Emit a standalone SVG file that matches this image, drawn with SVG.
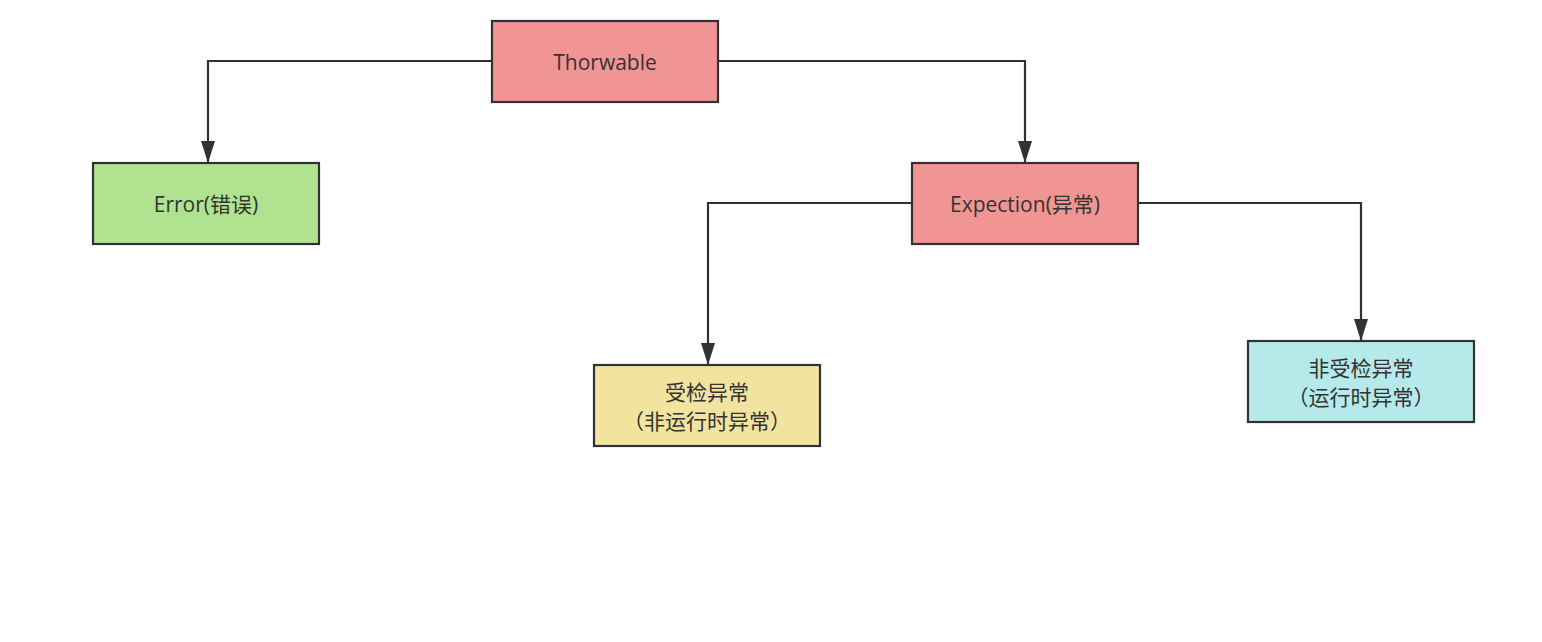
<svg xmlns="http://www.w3.org/2000/svg" width="1542" height="642" viewBox="0 0 1542 642">
<style>
.box{stroke:#323232;stroke-width:2.2}
.t{font-family:"Open Sans","Noto Sans CJK SC",sans-serif;font-size:21px;fill:#333;text-anchor:middle}
.c{fill:none;stroke:#323232;stroke-width:2.2;marker-end:url(#a)}
</style>
<defs>
<marker id="a" markerWidth="14" markerHeight="22" viewBox="0 0 14 22" refX="7" refY="22" orient="0" markerUnits="userSpaceOnUse">
<path d="M0,0 L14,0 L7,22 Z" fill="#323232"/>
</marker>
</defs>
<rect width="1542" height="642" fill="#fff"/>
<g id="connectors">
<path class="c" d="M492,61 H208 V163"/>
<path class="c" d="M718,61 H1025 V163"/>
<path class="c" d="M912,203 H708 V365"/>
<path class="c" d="M1138,203 H1361 V341"/>
</g>
<g id="thorwable">
<rect class="box" x="492" y="21" width="226" height="81" fill="#F19594"/>
<text class="t" x="605" y="70">Thorwable</text>
</g>
<g id="error">
<rect class="box" x="93" y="163" width="226" height="81" fill="#B0E38F"/>
<text class="t" x="206" y="212">Error(错误)</text>
</g>
<g id="expection">
<rect class="box" x="912" y="163" width="226" height="81" fill="#F19594"/>
<text class="t" x="1025" y="212">Expection(异常)</text>
</g>
<g id="checked">
<rect class="box" x="594" y="365" width="226" height="81" fill="#F2E39F"/>
<text class="t" x="707" y="400">受检异常</text>
<text class="t" x="707" y="429">（非运行时异常）</text>
</g>
<g id="unchecked">
<rect class="box" x="1248" y="341" width="226" height="81" fill="#B5E9EA"/>
<text class="t" x="1361" y="376">非受检异常</text>
<text class="t" x="1361" y="405">（运行时异常）</text>
</g>
</svg>
